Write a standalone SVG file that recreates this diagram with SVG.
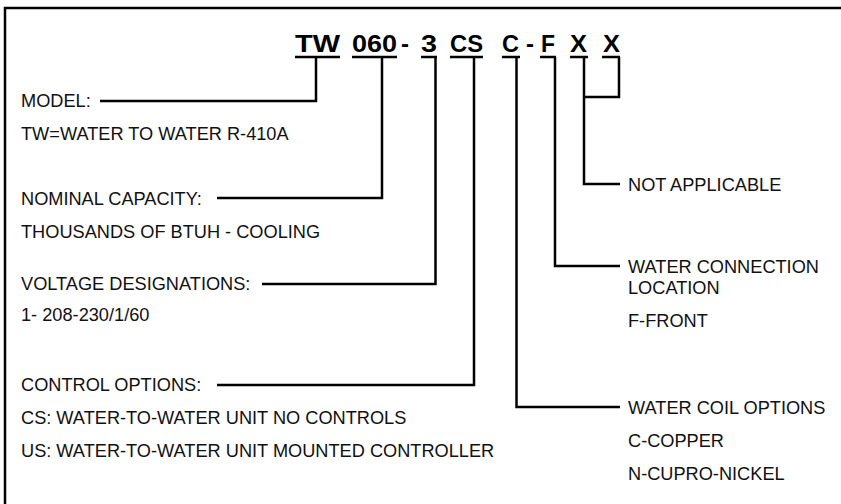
<svg xmlns="http://www.w3.org/2000/svg" width="841" height="504" viewBox="0 0 841 504">
<style>
  .t { font-family: "Liberation Sans", Arial, sans-serif; font-size: 18.2px; fill: #111; }
  .h { font-family: "Liberation Sans", Arial, sans-serif; font-size: 24px; font-weight: bold; fill: #000; }
  .ln { fill: none; stroke: #000; stroke-width: 2.5; stroke-linejoin: miter; stroke-linecap: butt; }
  .ul { stroke: #000; stroke-width: 2.5; }
</style>
<rect width="841" height="504" fill="#fff"/>
<g id="frame">
  <path class="ln" d="M5 504 V8 H841" stroke-width="3"/>
</g>
<g id="code">
  <text class="h" x="295" y="52" textLength="45" lengthAdjust="spacingAndGlyphs">TW</text>
  <text class="h" x="352" y="52" textLength="45" lengthAdjust="spacingAndGlyphs">060</text>
  <text class="h" x="405" y="52" text-anchor="middle">-</text>
  <text class="h" x="421" y="52" textLength="16" lengthAdjust="spacingAndGlyphs">3</text>
  <text class="h" x="450" y="52" textLength="33" lengthAdjust="spacingAndGlyphs">CS</text>
  <text class="h" x="502" y="52" textLength="17" lengthAdjust="spacingAndGlyphs">C</text>
  <text class="h" x="530" y="52" text-anchor="middle">-</text>
  <text class="h" x="541" y="52" textLength="14" lengthAdjust="spacingAndGlyphs">F</text>
  <text class="h" x="570" y="52" textLength="17" lengthAdjust="spacingAndGlyphs">X</text>
  <text class="h" x="603" y="52" textLength="17" lengthAdjust="spacingAndGlyphs">X</text>
  <g>
    <line class="ul" x1="295" y1="57" x2="340" y2="57"/>
    <line class="ul" x1="352" y1="57" x2="397" y2="57"/>
    <line class="ul" x1="421" y1="57" x2="437" y2="57"/>
    <line class="ul" x1="450" y1="57" x2="483" y2="57"/>
    <line class="ul" x1="502" y1="57" x2="520" y2="57"/>
    <line class="ul" x1="540" y1="57" x2="556" y2="57"/>
    <line class="ul" x1="570" y1="57" x2="588" y2="57"/>
    <line class="ul" x1="602" y1="57" x2="620" y2="57"/>
  </g>
</g>
<g id="connectors">
  <path class="ln" d="M316 57 V101 H100"/>
  <path class="ln" d="M382 57 V198 H217"/>
  <path class="ln" d="M435.5 57 V284 H262"/>
  <path class="ln" d="M474 57 V385 H217"/>
  <path class="ln" d="M516.5 57 V407 H620"/>
  <path class="ln" d="M555 57 V266 H620"/>
  <path class="ln" d="M584 57 V184 H620"/>
  <path class="ln" d="M619 57 V97 H584"/>
</g>
<g id="model">
  <text class="t" x="21" y="107">MODEL:</text>
  <text class="t" x="21" y="140">TW=WATER TO WATER R-410A</text>
</g>
<g id="capacity">
  <text class="t" x="21" y="205">NOMINAL CAPACITY:</text>
  <text class="t" x="21" y="238">THOUSANDS OF BTUH - COOLING</text>
</g>
<g id="voltage">
  <text class="t" x="21" y="290">VOLTAGE DESIGNATIONS:</text>
  <text class="t" x="21" y="321">1- 208-230/1/60</text>
</g>
<g id="control">
  <text class="t" x="21" y="391">CONTROL OPTIONS:</text>
  <text class="t" x="21" y="424">CS: WATER-TO-WATER UNIT NO CONTROLS</text>
  <text class="t" x="21" y="457">US: WATER-TO-WATER UNIT MOUNTED CONTROLLER</text>
</g>
<g id="not-applicable">
  <text class="t" x="628" y="191">NOT APPLICABLE</text>
</g>
<g id="connection">
  <text class="t" x="628" y="273">WATER CONNECTION</text>
  <text class="t" x="628" y="294">LOCATION</text>
  <text class="t" x="628" y="327">F-FRONT</text>
</g>
<g id="coil">
  <text class="t" x="628" y="414">WATER COIL OPTIONS</text>
  <text class="t" x="628" y="447">C-COPPER</text>
  <text class="t" x="628" y="480">N-CUPRO-NICKEL</text>
</g>
</svg>
